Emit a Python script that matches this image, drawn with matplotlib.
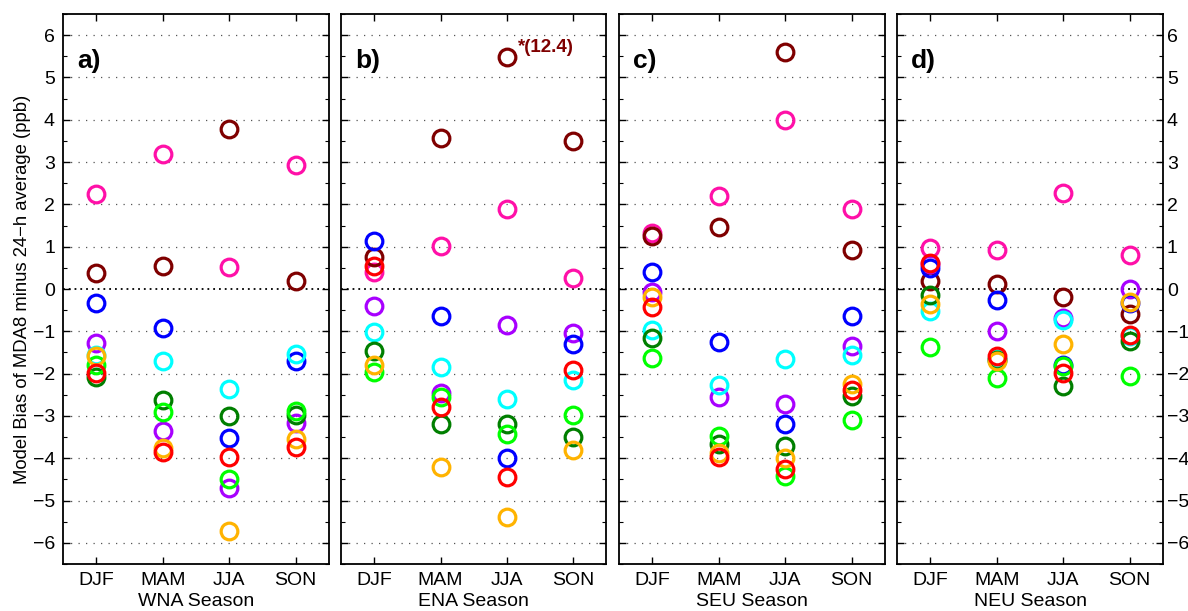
import matplotlib
matplotlib.use("Agg")
import matplotlib.pyplot as plt
from matplotlib.ticker import MultipleLocator

plt.rcParams['font.family'] = ['Liberation Sans', 'DejaVu Sans']

seasons = ["DJF", "MAM", "JJA", "SON"]
regions = ["WNA", "ENA", "SEU", "NEU"]
panel_labels = ["a)", "b)", "c)", "d)"]

# model colours, in plotting order
model_colors = ["#FF10A8", "#7F0000", "#A800FF", "#0000FF", "#00FFFF",
                "#007F00", "#00FF00", "#FFB300", "#FF0000"]
model_names = ["magenta", "darkred", "purple", "blue", "cyan",
               "darkgreen", "green", "orange", "red"]

# values per region: each list = [DJF, MAM, JJA, SON] for one model
WNA = {
    "magenta":   [2.25, 3.18, 0.53, 2.94],
    "darkred":   [0.37, 0.55, 3.78, 0.19],
    "purple":    [-1.28, -3.35, -4.71, -3.16],
    "blue":      [-0.34, -0.91, -3.53, -1.71],
    "cyan":      [-1.55, -1.71, -2.36, -1.53],
    "darkgreen": [-2.08, -2.63, -3.01, -2.97],
    "green":     [-1.79, -2.91, -4.48, -2.89],
    "orange":    [-1.58, -3.75, -5.72, -3.54],
    "red":       [-1.98, -3.86, -3.97, -3.74],
}
ENA = {
    "magenta":   [0.41, 1.02, 1.90, 0.27],
    "darkred":   [0.76, 3.57, 5.49, 3.49],
    "purple":    [-0.39, -2.46, -0.85, -1.03],
    "blue":      [1.14, -0.63, -4.00, -1.30],
    "cyan":      [-1.02, -1.85, -2.59, -2.14],
    "darkgreen": [-1.46, -3.19, -3.18, -3.50],
    "green":     [-1.96, -2.55, -3.42, -2.98],
    "orange":    [-1.79, -4.20, -5.39, -3.81],
    "red":       [0.55, -2.79, -4.44, -1.92],
}
SEU = {
    "magenta":   [1.33, 2.20, 4.00, 1.90],
    "darkred":   [1.26, 1.47, 5.61, 0.93],
    "purple":    [-0.08, -2.55, -2.71, -1.34],
    "blue":      [0.41, -1.26, -3.20, -0.64],
    "cyan":      [-0.97, -2.28, -1.66, -1.57],
    "darkgreen": [-1.16, -3.67, -3.71, -2.54],
    "green":     [-1.62, -3.48, -4.42, -3.09],
    "orange":    [-0.18, -3.87, -3.99, -2.24],
    "red":       [-0.43, -3.97, -4.25, -2.38],
}
NEU = {
    "magenta":   [0.96, 0.93, 2.27, 0.80],
    "darkred":   [0.20, 0.13, -0.20, -0.59],
    "purple":    [0.58, -1.00, -0.69, 0.00],
    "blue":      [0.49, -0.26, -1.79, -0.34],
    "cyan":      [-0.51, -1.65, -0.73, -1.12],
    "darkgreen": [-0.13, -1.67, -2.30, -1.22],
    "green":     [-1.38, -2.10, -1.83, -2.05],
    "orange":    [-0.35, -1.71, -1.30, -0.30],
    "red":       [0.62, -1.58, -1.99, -1.08],
}
region_data = [WNA, ENA, SEU, NEU]

W, H = 1188, 611
fig = plt.figure(figsize=(W / 100, H / 100), dpi=100)

lefts_px = [63.3, 341.0, 619.3, 897.3]
ax_w_px = 265.4
bottom_px, top_px = 47, 597

xpos = [1, 2, 3, 4]
for i, (data, reg, lab) in enumerate(zip(region_data, regions, panel_labels)):
    ax = fig.add_axes([lefts_px[i] / W, bottom_px / H, ax_w_px / W, (top_px - bottom_px) / H])
    ax.set_xlim(0.5, 4.5)
    ax.set_ylim(-6.5, 6.5)
    for yv in range(-6, 7):
        if yv == 0:
            ax.axhline(0, color="black", lw=1.3, ls=(0, (1, 2.2)), zorder=1)
        else:
            ax.axhline(yv, color="#555555", lw=0.9, ls=(0, (1, 5)), zorder=1)
    for name, col in zip(model_names, model_colors):
        ax.plot(xpos, data[name], ls="none", marker="o", markersize=12,
                markerfacecolor="none", markeredgecolor=col, markeredgewidth=2.3,
                zorder=3)
    ax.set_xticks(xpos)
    ax.set_xticklabels(seasons, fontsize=14)
    ax.set_yticks(range(-6, 7))
    ax.yaxis.set_minor_locator(MultipleLocator(0.5))
    ax.tick_params(axis="both", which="both", direction="in", top=True, right=True)
    ax.tick_params(axis="both", which="major", length=5, width=1.0, labelsize=14)
    ax.tick_params(axis="x", which="major", pad=6)
    ax.tick_params(axis="y", which="minor", length=3, width=0.8)
    ax.tick_params(axis="x", which="minor", length=0)
    if i == 0:
        ax.tick_params(axis="y", labelleft=True, labelright=False, pad=6)
        ax.set_ylabel("Model Bias of MDA8 minus 24\u2212h average (ppb)", fontsize=13.3, labelpad=1)
    elif i == 3:
        ax.tick_params(axis="y", labelleft=False, labelright=True, pad=3)
    else:
        ax.tick_params(axis="y", labelleft=False, labelright=False)
    ax.set_xlabel(f"{reg} Season", fontsize=14, labelpad=2.5)
    for s in ax.spines.values():
        s.set_linewidth(1.3)
    ax.text(0.71, 5.4, lab, fontsize=19, fontweight="bold", ha="left", va="center")
    if i == 1:
        ax.text(3.16, 5.72, "*(12.4)", fontsize=13.5, fontweight="bold",
                color="#7F0000", ha="left", va="center")

fig.savefig("out.png", dpi=100)
